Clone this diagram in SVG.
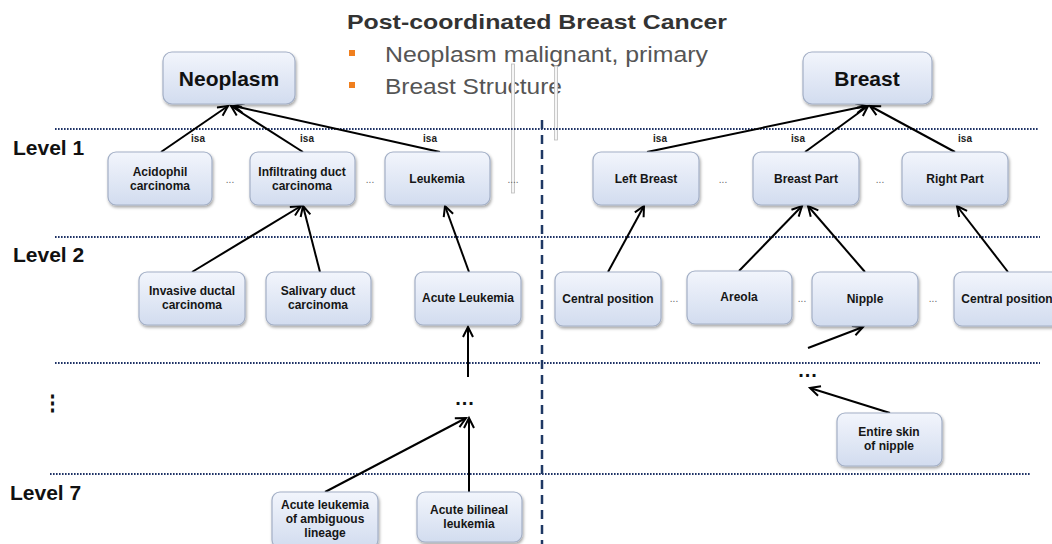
<svg xmlns="http://www.w3.org/2000/svg" width="1052" height="544" viewBox="0 0 1052 544">
  <defs>
    <linearGradient id="boxFill" x1="0" y1="0" x2="0" y2="1">
      <stop offset="0" stop-color="#f2f5fc"/>
      <stop offset="1" stop-color="#d2dcef"/>
    </linearGradient>
    <filter id="shadow" x="-10%" y="-10%" width="125%" height="135%">
      <feDropShadow dx="1" dy="2" stdDeviation="1.5" flood-color="#000" flood-opacity="0.35"/>
    </filter>
    <marker id="arrow" markerUnits="userSpaceOnUse" markerWidth="14" markerHeight="14" refX="11" refY="6" orient="auto">
      <path d="M1,1 L11,6 L1,11" fill="none" stroke="#000" stroke-width="2"/>
    </marker>
  </defs>
  <style>
    .box { fill: url(#boxFill); stroke: #a3afc6; stroke-width: 1.2; filter: url(#shadow); }
    .lbl { font-family: "Liberation Sans", Arial, sans-serif; font-weight: bold; font-size: 12px; fill: #161616; text-anchor: middle; }
    .big { font-family: "Liberation Sans", Arial, sans-serif; font-weight: bold; font-size: 21px; fill: #111; text-anchor: middle; }
    .lvl { font-family: "Liberation Sans", Arial, sans-serif; font-weight: bold; font-size: 21px; fill: #111; }
    .isa { font-family: "Liberation Sans", Arial, sans-serif; font-weight: bold; font-size: 10px; fill: #222; text-anchor: middle; }
    .gap { font-family: "Liberation Sans", Arial, sans-serif; font-size: 10px; fill: #666; text-anchor: middle; }
    .more { font-family: "Liberation Sans", Arial, sans-serif; font-weight: bold; font-size: 20px; fill: #111; text-anchor: middle; letter-spacing: 1px; }
    .title { font-family: "Liberation Sans", Arial, sans-serif; font-weight: bold; font-size: 21px; fill: #333; }
    .bullet { font-family: "Liberation Sans", Arial, sans-serif; font-size: 22px; fill: #555; }
    .dotted { stroke: #1f3366; stroke-width: 2; stroke-dasharray: 1.6 1.4; fill: none; }
    .edge { stroke: #000; stroke-width: 2; fill: none; marker-end: url(#arrow); }
    .bar { fill: #f6f6f6; stroke: #bcbcbc; stroke-width: 0.8; }
  </style>

  <rect width="1052" height="544" fill="#fff"/>

  <!-- heading and bullet list -->
  <g id="heading">
    <text class="title" x="347" y="29" textLength="380" lengthAdjust="spacingAndGlyphs">Post-coordinated Breast Cancer</text>
    <rect x="349" y="50" width="6" height="6" fill="#f07f1e"/>
    <text class="bullet" x="385" y="62" textLength="323" lengthAdjust="spacingAndGlyphs">Neoplasm malignant, primary</text>
    <rect x="349" y="82" width="6" height="6" fill="#f07f1e"/>
    <text class="bullet" x="385" y="94" textLength="177" lengthAdjust="spacingAndGlyphs">Breast Structure</text>
  </g>

  <!-- thin grey bars -->
  <rect class="bar" x="511.5" y="64" width="3" height="129"/>
  <rect class="bar" x="554.5" y="66" width="3" height="74"/>

  <!-- level separators -->
  <g id="levels">
    <line class="dotted" x1="55" y1="129" x2="1038" y2="129"/>
    <line class="dotted" x1="55" y1="237" x2="1040" y2="237"/>
    <line class="dotted" x1="55" y1="363" x2="1040" y2="363"/>
    <line class="dotted" x1="50" y1="474" x2="1030" y2="474"/>
    <line x1="542" y1="120" x2="542" y2="544" stroke="#1f3864" stroke-width="2.5" stroke-dasharray="9 6"/>
    <text class="lvl" x="13" y="155">Level 1</text>
    <text class="lvl" x="13" y="262">Level 2</text>
    <text class="lvl" x="52" y="410" text-anchor="middle" font-family="DejaVu Sans, sans-serif">⋮</text>
    <text class="lvl" x="10" y="500">Level 7</text>
  </g>

  <!-- connectors -->
  <g id="connectors">
    <line class="edge" x1="161" y1="152" x2="228" y2="106"/>
    <line class="edge" x1="303" y1="152" x2="231" y2="106"/>
    <line class="edge" x1="440" y1="152" x2="234" y2="106"/>
    <line class="edge" x1="647" y1="152" x2="866" y2="106"/>
    <line class="edge" x1="805" y1="152" x2="868" y2="106"/>
    <line class="edge" x1="955" y1="152" x2="870" y2="106"/>
    <line class="edge" x1="192" y1="272" x2="301" y2="206"/>
    <line class="edge" x1="320" y1="272" x2="303" y2="206"/>
    <line class="edge" x1="469" y1="272" x2="445" y2="206"/>
    <line class="edge" x1="608" y1="272" x2="644" y2="206"/>
    <line class="edge" x1="739" y1="271" x2="802" y2="206"/>
    <line class="edge" x1="865" y1="272" x2="808" y2="206"/>
    <line class="edge" x1="1008" y1="272" x2="957" y2="206"/>
    <line class="edge" x1="808" y1="348" x2="863" y2="327"/>
    <line class="edge" x1="468" y1="377" x2="468" y2="327"/>
    <line class="edge" x1="890" y1="413" x2="810" y2="388"/>
    <line class="edge" x1="325" y1="492" x2="466" y2="418"/>
    <line class="edge" x1="469" y1="492" x2="469" y2="418"/>
    <text class="isa" x="198" y="142">isa</text>
    <text class="isa" x="307" y="142">isa</text>
    <text class="isa" x="430" y="142">isa</text>
    <text class="isa" x="660" y="142">isa</text>
    <text class="isa" x="798" y="142">isa</text>
    <text class="isa" x="965" y="142">isa</text>
  </g>

  <!-- root concepts -->
  <g id="neoplasm">
    <rect class="box" x="163" y="52" width="132" height="52" rx="9"/>
    <text class="big" x="229" y="86">Neoplasm</text>
  </g>
  <g id="breast">
    <rect class="box" x="803" y="52" width="129" height="52" rx="9"/>
    <text class="big" x="867" y="86">Breast</text>
  </g>

  <!-- level 1 -->
  <g id="acidophil-carcinoma">
    <rect class="box" x="108" y="152" width="104" height="53" rx="8"/>
    <text class="lbl" x="160" y="176">Acidophil</text>
    <text class="lbl" x="160" y="190">carcinoma</text>
  </g>
  <g id="infiltrating-duct-carcinoma">
    <rect class="box" x="250" y="152" width="105" height="53" rx="8"/>
    <text class="lbl" x="302" y="176">Infiltrating duct</text>
    <text class="lbl" x="302" y="190">carcinoma</text>
  </g>
  <g id="leukemia">
    <rect class="box" x="385" y="152" width="105" height="53" rx="8"/>
    <text class="lbl" x="437" y="183">Leukemia</text>
  </g>
  <g id="left-breast">
    <rect class="box" x="593" y="152" width="106" height="53" rx="8"/>
    <text class="lbl" x="646" y="183">Left Breast</text>
  </g>
  <g id="breast-part">
    <rect class="box" x="753" y="152" width="106" height="53" rx="8"/>
    <text class="lbl" x="806" y="183">Breast Part</text>
  </g>
  <g id="right-part">
    <rect class="box" x="902" y="152" width="106" height="53" rx="8"/>
    <text class="lbl" x="955" y="183">Right Part</text>
  </g>

  <!-- level 2 -->
  <g id="invasive-ductal-carcinoma">
    <rect class="box" x="139" y="272" width="106" height="53" rx="8"/>
    <text class="lbl" x="192" y="295">Invasive ductal</text>
    <text class="lbl" x="192" y="309">carcinoma</text>
  </g>
  <g id="salivary-duct-carcinoma">
    <rect class="box" x="266" y="272" width="105" height="53" rx="8"/>
    <text class="lbl" x="318" y="295">Salivary duct</text>
    <text class="lbl" x="318" y="309">carcinoma</text>
  </g>
  <g id="acute-leukemia">
    <rect class="box" x="415" y="272" width="106" height="53" rx="8"/>
    <text class="lbl" x="468" y="302">Acute Leukemia</text>
  </g>
  <g id="central-position-left">
    <rect class="box" x="555" y="272" width="106" height="54" rx="8"/>
    <text class="lbl" x="608" y="303">Central position</text>
  </g>
  <g id="areola">
    <rect class="box" x="687" y="271" width="105" height="53" rx="8"/>
    <text class="lbl" x="739" y="301">Areola</text>
  </g>
  <g id="nipple">
    <rect class="box" x="812" y="272" width="106" height="54" rx="8"/>
    <text class="lbl" x="865" y="303">Nipple</text>
  </g>
  <g id="central-position-right">
    <rect class="box" x="954" y="272" width="106" height="54" rx="8"/>
    <text class="lbl" x="1007" y="303">Central position</text>
  </g>

  <!-- deeper levels -->
  <g id="entire-skin-of-nipple">
    <rect class="box" x="837" y="413" width="105" height="53" rx="8"/>
    <text class="lbl" x="889" y="436">Entire skin</text>
    <text class="lbl" x="889" y="450">of nipple</text>
  </g>
  <g id="acute-leukemia-ambiguous-lineage">
    <rect class="box" x="272" y="492" width="106" height="56" rx="8"/>
    <text class="lbl" x="325" y="509">Acute leukemia</text>
    <text class="lbl" x="325" y="523">of ambiguous</text>
    <text class="lbl" x="325" y="537">lineage</text>
  </g>
  <g id="acute-bilineal-leukemia">
    <rect class="box" x="417" y="492" width="105" height="50" rx="8"/>
    <text class="lbl" x="469" y="514">Acute bilineal</text>
    <text class="lbl" x="469" y="528">leukemia</text>
  </g>

  <!-- elision marks -->
  <g id="ellipses">
    <text class="gap" x="230" y="183">...</text>
    <text class="gap" x="370" y="183">...</text>
    <text class="gap" x="513" y="183">....</text>
    <text class="gap" x="723" y="183">...</text>
    <text class="gap" x="880" y="183">...</text>
    <text class="gap" x="674" y="302">...</text>
    <text class="gap" x="802" y="302">...</text>
    <text class="gap" x="933" y="302">...</text>
    <text class="more" x="465" y="405">...</text>
    <text class="more" x="808" y="377">...</text>
  </g>
</svg>
